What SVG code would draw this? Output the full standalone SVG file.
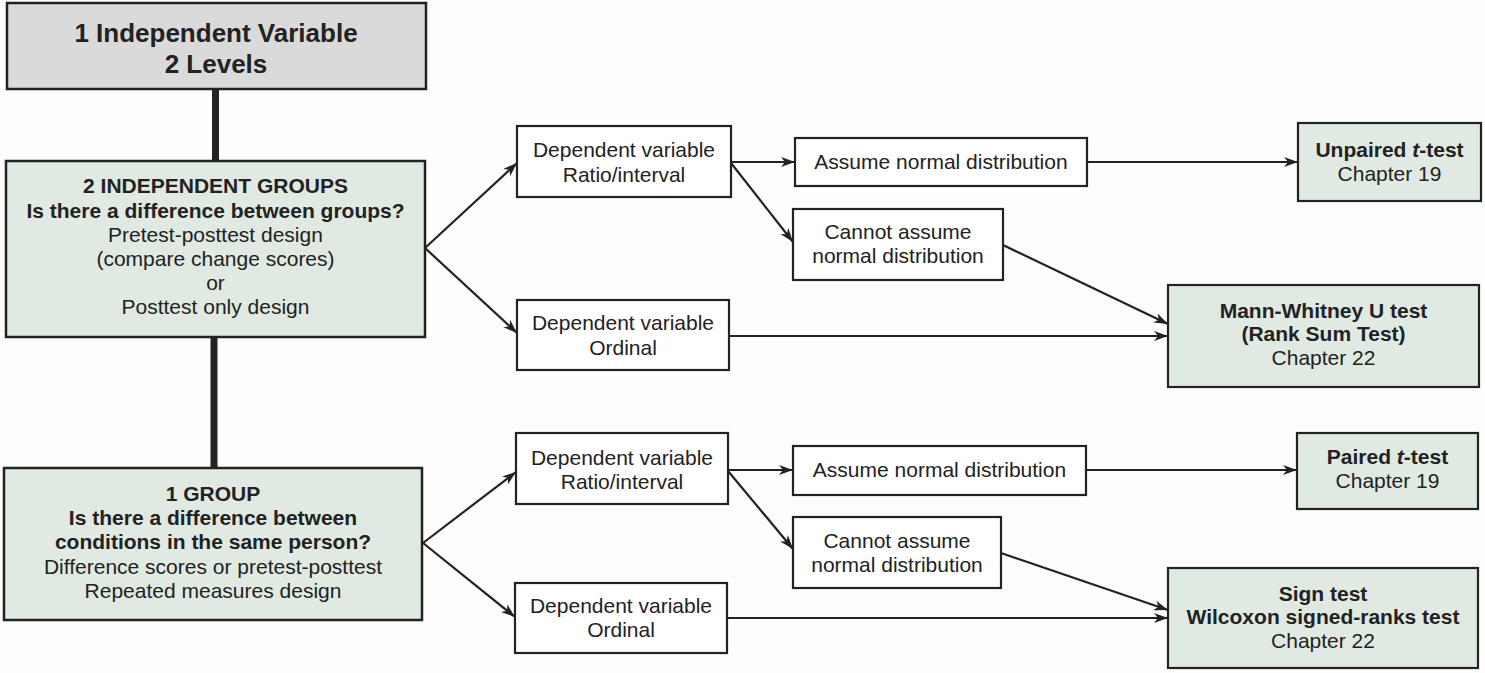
<svg xmlns="http://www.w3.org/2000/svg" width="1485" height="673" viewBox="0 0 1485 673">
  <style>
    .bg { fill: #fdfdfd; }
    .head { fill: #dadada; stroke: #222; stroke-width: 2.5; }
    .grp { fill: #e0eae2; stroke: #222; stroke-width: 2.5; }
    .step { fill: #ffffff; stroke: #222; stroke-width: 2.2; }
    .res { fill: #e0eae2; stroke: #222; stroke-width: 2.2; }
    text { font-family: "Liberation Sans", Arial, Helvetica, sans-serif; fill: #222; text-anchor: middle; }
    .t26 { font-size: 26px; font-weight: bold; }
    .b { font-size: 21px; font-weight: bold; }
    .r { font-size: 21px; }
    .trunk { stroke: #222; stroke-width: 7; fill: none; }
    .arr { stroke: #222; stroke-width: 2.2; fill: none; marker-end: url(#head); }
    .ln { stroke: #222; stroke-width: 2.2; fill: none; }
  </style>
  <defs>
    <marker id="head" markerUnits="userSpaceOnUse" markerWidth="16" markerHeight="12" refX="14" refY="5" orient="auto">
      <path d="M0,0 L14,5 L0,10 L4,5 Z" fill="#222"/>
    </marker>
  </defs>

  <rect class="bg" x="0" y="0" width="1485" height="673"/>

  <!-- connectors -->
  <g id="connectors">
    <line class="trunk" x1="215.5" y1="89" x2="215.5" y2="161"/>
    <line class="trunk" x1="214" y1="337" x2="214" y2="469"/>

    <!-- independent groups branch -->
    <line class="arr" x1="425" y1="248" x2="517" y2="163"/>
    <line class="arr" x1="425" y1="248" x2="517" y2="333"/>
    <line class="arr" x1="731" y1="162" x2="795" y2="162"/>
    <line class="arr" x1="731" y1="163" x2="793" y2="242"/>
    <line class="arr" x1="1087" y1="162" x2="1298" y2="162"/>
    <line class="arr" x1="1003" y1="245" x2="1168" y2="324"/>
    <line class="arr" x1="729" y1="336" x2="1168" y2="336"/>

    <!-- one group branch -->
    <line class="arr" x1="423" y1="543" x2="516" y2="472"/>
    <line class="arr" x1="423" y1="543" x2="515" y2="617"/>
    <line class="arr" x1="728" y1="470" x2="793" y2="470"/>
    <line class="arr" x1="728" y1="471" x2="793" y2="549"/>
    <line class="arr" x1="1086" y1="470" x2="1297" y2="470"/>
    <line class="arr" x1="1001" y1="553" x2="1168" y2="610"/>
    <line class="arr" x1="727" y1="618" x2="1168" y2="618"/>
  </g>

  <!-- root -->
  <g id="root">
    <rect class="head" x="7" y="3" width="419" height="86"/>
    <text class="t26" x="216" y="42">1 Independent Variable</text>
    <text class="t26" x="216" y="73">2 Levels</text>
  </g>

  <!-- two independent groups -->
  <g id="two-groups">
    <rect class="grp" x="6" y="161" width="419" height="176"/>
    <text class="b" x="215.5" y="193">2 INDEPENDENT GROUPS</text>
    <text class="b" x="215.5" y="218">Is there a difference between groups?</text>
    <text class="r" x="215.5" y="242">Pretest-posttest design</text>
    <text class="r" x="215.5" y="266">(compare change scores)</text>
    <text class="r" x="215.5" y="290">or</text>
    <text class="r" x="215.5" y="314">Posttest only design</text>
  </g>

  <!-- one group -->
  <g id="one-group">
    <rect class="grp" x="4" y="468" width="418" height="152"/>
    <text class="b" x="213" y="501">1 GROUP</text>
    <text class="b" x="213" y="525">Is there a difference between</text>
    <text class="b" x="213" y="549">conditions in the same person?</text>
    <text class="r" x="213" y="574">Difference scores or pretest-posttest</text>
    <text class="r" x="213" y="598">Repeated measures design</text>
  </g>

  <!-- dependent variable boxes -->
  <g id="dv-ratio-1">
    <rect class="step" x="517" y="126" width="214" height="71"/>
    <text class="r" x="624" y="157">Dependent variable</text>
    <text class="r" x="624" y="182">Ratio/interval</text>
  </g>
  <g id="dv-ordinal-1">
    <rect class="step" x="517" y="300" width="212" height="70"/>
    <text class="r" x="623" y="330">Dependent variable</text>
    <text class="r" x="623" y="355">Ordinal</text>
  </g>
  <g id="dv-ratio-2">
    <rect class="step" x="516" y="433" width="212" height="71"/>
    <text class="r" x="622" y="465">Dependent variable</text>
    <text class="r" x="622" y="489">Ratio/interval</text>
  </g>
  <g id="dv-ordinal-2">
    <rect class="step" x="515" y="583" width="212" height="70"/>
    <text class="r" x="621" y="613">Dependent variable</text>
    <text class="r" x="621" y="637">Ordinal</text>
  </g>

  <!-- distribution boxes -->
  <g id="normal-1">
    <rect class="step" x="795" y="138" width="292" height="48"/>
    <text class="r" x="941" y="169">Assume normal distribution</text>
  </g>
  <g id="non-normal-1">
    <rect class="step" x="793" y="209" width="210" height="71"/>
    <text class="r" x="898" y="239">Cannot assume</text>
    <text class="r" x="898" y="263">normal distribution</text>
  </g>
  <g id="normal-2">
    <rect class="step" x="793" y="446" width="293" height="49"/>
    <text class="r" x="939.5" y="477">Assume normal distribution</text>
  </g>
  <g id="non-normal-2">
    <rect class="step" x="793" y="517" width="208" height="71"/>
    <text class="r" x="897" y="548">Cannot assume</text>
    <text class="r" x="897" y="572">normal distribution</text>
  </g>

  <!-- tests -->
  <g id="unpaired-t">
    <rect class="res" x="1298" y="123" width="183" height="78"/>
    <text class="b" x="1389.5" y="157">Unpaired <tspan font-style="italic">t</tspan>-test</text>
    <text class="r" x="1389.5" y="181">Chapter 19</text>
  </g>
  <g id="mann-whitney">
    <rect class="res" x="1168" y="285" width="311" height="102"/>
    <text class="b" x="1323.5" y="318">Mann-Whitney U test</text>
    <text class="b" x="1323.5" y="341">(Rank Sum Test)</text>
    <text class="r" x="1323.5" y="365">Chapter 22</text>
  </g>
  <g id="paired-t">
    <rect class="res" x="1297" y="433" width="181" height="76"/>
    <text class="b" x="1387.5" y="464">Paired <tspan font-style="italic">t</tspan>-test</text>
    <text class="r" x="1387.5" y="488">Chapter 19</text>
  </g>
  <g id="sign-wilcoxon">
    <rect class="res" x="1168" y="568" width="310" height="100"/>
    <text class="b" x="1323" y="601">Sign test</text>
    <text class="b" x="1323" y="624">Wilcoxon signed-ranks test</text>
    <text class="r" x="1323" y="648">Chapter 22</text>
  </g>
</svg>
